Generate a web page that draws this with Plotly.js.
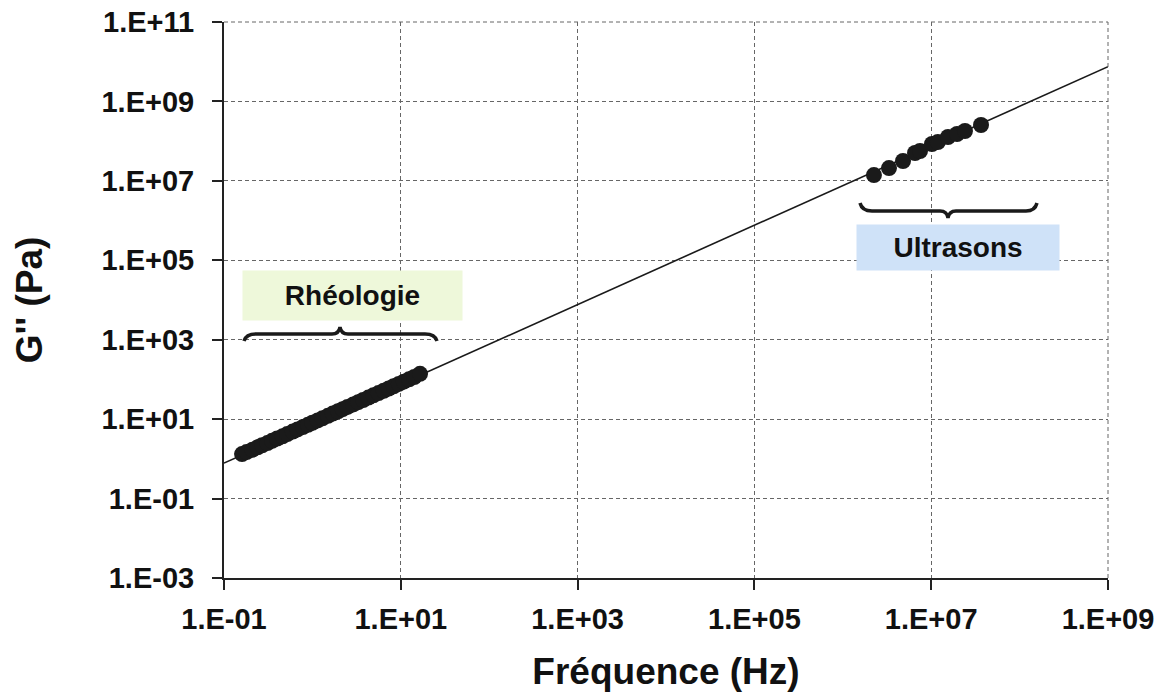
<!DOCTYPE html>
<html>
<head>
<meta charset="utf-8">
<script src="https://cdn.plot.ly/plotly-3.0.1.min.js"></script>
<style>html,body{margin:0;padding:0;background:#fff;}#chart{width:1161px;height:693px;}</style>
</head>
<body>
<div id="chart"></div>
<script>
// Rheology data (Hz, Pa)
const rheoFreq = [0.16, 0.18, 0.21, 0.24, 0.27, 0.31, 0.35, 0.40, 0.46, 0.52, 0.60, 0.68, 0.78, 0.89, 1.0, 1.15, 1.3, 1.5, 1.7, 1.95, 2.2, 2.5, 2.9, 3.3, 3.75, 4.3, 4.9, 5.6, 6.4, 7.3, 8.3, 9.5, 10.8, 12.4, 14.2, 16.5];
const rheoG2 = [1.32, 1.48, 1.7, 1.95, 2.2, 2.5, 2.85, 3.25, 3.7, 4.2, 4.85, 5.5, 6.3, 7.2, 8.1, 9.3, 10.5, 12.1, 13.8, 15.8, 17.8, 20.3, 23.5, 26.8, 30.4, 34.9, 39.7, 45.4, 51.9, 59.2, 67.3, 77.0, 87.6, 100.6, 115.2, 138];
// Ultrasound data (Hz, Pa)
const usFreq = [2.25e6, 3.33e6, 4.8e6, 6.56e6, 7.47e6, 1.02e7, 1.19e7, 1.55e7, 1.96e7, 2.41e7, 3.66e7];
const usG2 = [1.40e7, 2.10e7, 3.16e7, 5.02e7, 5.64e7, 8.47e7, 9.5e7, 1.27e8, 1.51e8, 1.80e8, 2.55e8];
// Fitted line
const fitFreq = [0.1, 1e9];
const fitG2 = [0.78, 7.5e9];
// Tick labels
const xTickVals = [1e-1, 1e1, 1e3, 1e5, 1e7, 1e9];
const xTickText = ["1.E-01", "1.E+01", "1.E+03", "1.E+05", "1.E+07", "1.E+09"];
const yTickVals = [1e-3, 1e-1, 1e1, 1e3, 1e5, 1e7, 1e9, 1e11];
const yTickText = ["1.E-03", "1.E-01", "1.E+01", "1.E+03", "1.E+05", "1.E+07", "1.E+09", "1.E+11"];

const FONT = "Arial, 'Liberation Sans', sans-serif";
const W = 1161, H = 693, L = 224, R = 1108, T = 22, B = 578;
function px(x) { return (x - L) / (R - L); }
function py(y) { return (B - y) / (B - T); }
function path(cmds) {
  return cmds.map(c => c[0] + ' ' + c.slice(1).map((v, i) =>
    (i % 2 === 0 ? px(v) : py(v)).toFixed(5)).join(' ')).join(' ');
}

const traces = [
  {x: fitFreq, y: fitG2, mode: 'lines', line: {color: '#1a1a1a', width: 1.6}, hoverinfo: 'skip'},
  {x: rheoFreq, y: rheoG2, mode: 'markers', marker: {symbol: 'circle', size: 16, color: '#1a1a1a'}},
  {x: usFreq, y: usG2, mode: 'markers', marker: {symbol: 'circle', size: 16, color: '#1a1a1a'}}
];

const braceRheo = path([
  ['M', 244, 341], ['Q', 246, 334, 256, 334], ['L', 332, 334], ['Q', 339, 334, 340, 327],
  ['Q', 341, 334, 348, 334], ['L', 425, 334], ['Q', 435, 334, 437, 341]
]);
const braceUS = path([
  ['M', 860, 203], ['Q', 862, 211, 872, 211], ['L', 940, 211], ['Q', 947, 211, 948, 218],
  ['Q', 949, 211, 956, 211], ['L', 1026, 211], ['Q', 1035, 211, 1037, 203]
]);

const GRID = {color: '#666', dash: '4px,3px'};
const layout = {
  width: W, height: H,
  margin: {l: L, r: W - R, t: T, b: H - B},
  paper_bgcolor: '#fff', plot_bgcolor: '#fff',
  showlegend: false,
  font: {family: FONT, color: '#111'},
  xaxis: {
    type: 'log', range: [-1, 9],
    tickvals: xTickVals, ticktext: xTickText,
    tickfont: {family: FONT, size: 29, color: '#111', weight: 'bold'},
    ticks: 'outside', ticklen: 10, tickwidth: 2, tickcolor: '#222',
    ticklabelstandoff: 4,
    showline: true, linecolor: '#222', linewidth: 2, mirror: false,
    showgrid: true, gridcolor: GRID.color, griddash: GRID.dash, gridwidth: 1,
    zeroline: false, automargin: false,
    title: {text: 'Fréquence (Hz)', font: {family: FONT, size: 37, color: '#111', weight: 'bold'}, standoff: 24}
  },
  yaxis: {
    type: 'log', range: [-3, 11],
    tickvals: yTickVals, ticktext: yTickText,
    tickfont: {family: FONT, size: 29, color: '#111', weight: 'bold'},
    ticks: 'outside', ticklen: 10, tickwidth: 2, tickcolor: '#222',
    ticklabelstandoff: 12,
    showline: true, linecolor: '#222', linewidth: 2, mirror: false,
    showgrid: true, gridcolor: GRID.color, griddash: GRID.dash, gridwidth: 1,
    zeroline: false, automargin: false,
    title: {text: "G'' (Pa)", font: {family: FONT, size: 37, color: '#111', weight: 'bold'}, standoff: 48}
  },
  shapes: [
    {type: 'line', xref: 'paper', yref: 'paper', x0: 0, x1: 1, y0: 1, y1: 1, line: {color: GRID.color, width: 1, dash: GRID.dash}},
    {type: 'line', xref: 'paper', yref: 'paper', x0: 1, x1: 1, y0: 0, y1: 1, line: {color: GRID.color, width: 1, dash: GRID.dash}},
    {type: 'path', xref: 'paper', yref: 'paper', path: braceRheo, line: {color: '#1a1a1a', width: 3.5}},
    {type: 'path', xref: 'paper', yref: 'paper', path: braceUS, line: {color: '#1a1a1a', width: 3.5}}
  ],
  annotations: [
    {xref: 'paper', yref: 'paper', x: px(352.5), y: py(295.5), xanchor: 'center', yanchor: 'middle',
     text: 'Rhéologie', showarrow: false, bgcolor: '#EEF8DA', width: 219, height: 49, borderpad: 0,
     font: {family: FONT, size: 28, color: '#111', weight: 'bold'}},
    {xref: 'paper', yref: 'paper', x: px(958), y: py(247.5), xanchor: 'center', yanchor: 'middle',
     text: 'Ultrasons', showarrow: false, bgcolor: '#CFE2F8', width: 202, height: 45, borderpad: 0,
     font: {family: FONT, size: 28, color: '#111', weight: 'bold'}}
  ]
};

Plotly.newPlot('chart', traces, layout, {displayModeBar: false, staticPlot: true});
</script>
</body>
</html>
